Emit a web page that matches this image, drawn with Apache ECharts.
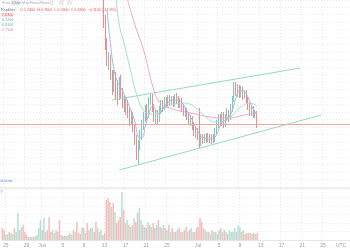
<!DOCTYPE html>
<html><head><meta charset="utf-8">
<script src="https://cdn.jsdelivr.net/npm/echarts@6/dist/echarts.min.js"></script>
<style>html,body{margin:0;padding:0;background:#fff}#c{width:350px;height:250px}</style>
</head><body><div id="c"></div>
<script>
// ---- time axis (8h candles) ----
const startTime = '2023-05-24T08:00:00Z';
const stepHours = 8;
const categoryCount = 201;
const tickDates = ['2023-05-25','2023-05-29','2023-06-01','2023-06-05','2023-06-09','2023-06-13','2023-06-17','2023-06-21','2023-06-25','2023-07-01','2023-07-05','2023-07-09','2023-07-13','2023-07-17','2023-07-21','2023-07-25'];
const tickLabels = ['25','29','Jun','5','9','13','17','21','25','Jul','5','9','13','17','21','25'];

// ---- candles [open, close, low, high]; earlier candles lie above the visible range ----
const hiddenCandleCount = 59;
const candlesVisible = [
[1.92,1.62,1.59,2.07],[1.62,1.42,1.37,1.72],[1.42,1.25,1.21,1.49],[1.25,1.29,1.17,1.35],[1.29,1.12,1.07,1.32],
[1.12,0.99,0.92,1.17],[0.99,1.11,0.95,1.17],[1.11,1.02,0.87,1.15],[1.02,0.92,0.82,1.07],[0.92,1.07,0.87,1.10],
[1.07,0.95,0.89,1.12],[0.95,0.87,0.79,0.99],[0.87,0.79,0.75,0.92],[0.79,0.85,0.72,0.89],[0.85,0.75,0.69,0.87],
[0.75,0.67,0.61,0.79],[0.67,0.72,0.63,0.77],[0.72,0.59,0.55,0.75],[0.59,0.47,0.42,0.62],[0.47,0.35,0.27,0.52],
[0.35,0.41,0.22,0.47],[0.41,0.52,0.37,0.57],[0.52,0.62,0.47,0.67],[0.62,0.69,0.57,0.75],[0.69,0.77,0.65,0.82],
[0.77,0.73,0.67,0.83],[0.73,0.87,0.69,0.90],[0.87,0.91,0.82,0.93],[0.91,0.79,0.75,0.93],[0.79,0.69,0.65,0.83],
[0.69,0.73,0.63,0.77],[0.73,0.67,0.63,0.77],[0.67,0.77,0.65,0.81],[0.77,0.83,0.73,0.87],[0.83,0.79,0.75,0.87],
[0.79,0.87,0.77,0.90],[0.87,0.83,0.79,0.90],[0.83,0.89,0.80,0.92],[0.89,0.85,0.81,0.92],[0.85,0.88,0.82,0.91],
[0.88,0.84,0.80,0.91],[0.84,0.90,0.81,0.93],[0.90,0.87,0.83,0.94],[0.87,0.83,0.79,0.91],[0.83,0.87,0.79,0.89],
[0.87,0.79,0.75,0.89],[0.79,0.74,0.71,0.83],[0.74,0.77,0.70,0.80],[0.77,0.70,0.67,0.79],[0.70,0.65,0.62,0.74],
[0.65,0.69,0.61,0.72],[0.69,0.61,0.57,0.71],[0.61,0.55,0.51,0.65],[0.55,0.57,0.49,0.61],[0.57,0.51,0.47,0.59],
[0.51,0.45,0.39,0.79],[0.45,0.49,0.41,0.53],[0.49,0.46,0.43,0.53],[0.46,0.50,0.44,0.53],[0.50,0.47,0.44,0.54],
[0.47,0.51,0.45,0.54],[0.51,0.46,0.44,0.53],[0.46,0.50,0.43,0.53],[0.50,0.47,0.44,0.53],[0.47,0.56,0.45,0.59],
[0.56,0.62,0.53,0.67],[0.62,0.69,0.59,0.73],[0.69,0.65,0.61,0.73],[0.65,0.71,0.61,0.75],[0.71,0.63,0.59,0.75],
[0.63,0.69,0.60,0.73],[0.69,0.73,0.67,0.79],[0.73,0.69,0.65,0.77],[0.69,0.79,0.67,0.83],[0.79,0.87,0.75,0.91],
[0.87,1.01,0.85,1.05],[1.01,0.95,0.91,1.05],[0.95,0.99,0.90,1.03],[0.99,0.93,0.89,1.02],[0.93,0.97,0.90,1.01],
[0.97,0.91,0.87,1.00],[0.91,0.94,0.88,0.97],[0.94,0.87,0.83,0.97],[0.87,0.81,0.77,0.90],[0.81,0.75,0.71,0.84],
[0.75,0.78,0.71,0.81],[0.78,0.72,0.69,0.81],[0.72,0.74,0.69,0.77],[0.74,0.63,0.59,0.76]
];

// ---- volume ----
const volumes = [
12,10,5,6,8,7,6,12,8,27, 10,13,15,8,5,3,3,3,3,4, 5,12,20,10,22,8,10,23,8,10,
7,10,8,20,5,4,4,4,5,7, 5,10,8,18,7,6,13,12,7,17, 10,12,12,8,18,12,8,10,5,7,
40,42,38,33,37,28,17,20,23,48, 30,17,20,15,13,15,22,18,27,32, 20,15,13,12,18,15,13,17,12,15,
20,13,12,15,12,10,15,8,12,8, 8,10,12,8,8,10,13,8,10,12, 8,8,12,13,22,18,12,10,8,8,
6,10,8,8,6,10,12,8,10,8, 6,10,8,8,12,8,15,13,8,10, 6,7,7,7,6,7,6,7
];
const volumeUp = [
0,0,1,1,0,1,1,0,1,1, 0,1,0,0,0,1,0,1,0,1, 1,1,1,0,1,1,0,0,0,1,
1,0,0,0,1,0,1,0,1,0, 1,0,1,0,0,0,1,0,1,0, 0,1,1,0,0,1,0,1,1,0,
0,0,0,1,0,1,0,0,0,1, 0,0,1,0,1,0,1,0,0,1, 1,0,1,0,1,0,1,0,0,1,
0,1,0,1,0,1,0,1,0,1, 0,1,0,0,1,0,0,1,0,1, 0,1,0,0,0,0,1,0,1,0,
1,0,1,1,0,1,0,1,0,1, 0,1,1,1,1,0,1,1,0,1, 0,0,0,1,0,0,1,0
];

// ---- moving averages [candle index, value] ----
const maFast = [[61,1.77],[63,1.42],[65,1.17],[67,1.05],[69,0.99],[71,0.92],[73,0.84],[75,0.75],[77,0.65],[79,0.50],
[81,0.49],[83,0.61],[85,0.73],[87,0.81],[89,0.77],[91,0.73],[93,0.78],[95,0.83],[97,0.86],[99,0.87],[101,0.87],
[103,0.86],[105,0.82],[107,0.76],[109,0.70],[111,0.63],[113,0.56],[115,0.51],[117,0.49],[119,0.48],[121,0.48],
[123,0.50],[125,0.57],[127,0.65],[129,0.67],[131,0.70],[133,0.77],[135,0.89],[137,0.96],[139,0.96],[141,0.93],
[143,0.85],[145,0.78],[147,0.72]];
const maMid = [[66,1.92],[68,1.62],[71,1.42],[74,1.20],[78,0.92],[81,0.79],[85,0.73],[89,0.73],[94,0.79],[100,0.83],
[106,0.84],[112,0.79],[117,0.71],[123,0.65],[127,0.65],[132,0.70],[137,0.79],[143,0.84],[147,0.81]];
const maSlow = [[72,1.92],[77,1.62],[82,1.37],[87,1.02],[91,0.85],[97,0.79],[103,0.76],[109,0.74],[114,0.72],
[120,0.70],[126,0.69],[132,0.69],[137,0.71],[143,0.73],[147,0.75]];

// ---- trend lines [candle index, value] ----
const trendUpper = [[64,0.87],[172,1.19]];
const trendLower = [[68,0.17],[184,0.72]];

// ---- build ----
const candles = [];
for (let i = 0; i < hiddenCandleCount; i++) candles.push(['-','-','-','-']);
candlesVisible.forEach(c => candles.push(c));
const cats = [];
const t0 = Date.parse(startTime);
for (let i = 0; i < categoryCount; i++) cats.push(new Date(t0 + i*stepHours*3600e3).toISOString().slice(0,13));
const labelMap = {};
tickDates.forEach((d,i)=>{ labelMap[d+'T00'] = tickLabels[i]; });
const showTick = (idx, val) => labelMap[val] !== undefined;

const UP = '#5dbea8', DOWN = '#f06b69';
const VUP = '#b1e2d6', VDOWN = '#f8bdbb';
const last = candlesVisible[candlesVisible.length-1];
const f4 = v => v.toFixed(4);
const chg = last[1] - last[0];

const chart = echarts.init(document.getElementById('c'), null, {renderer:'canvas'});
const gridLine = {show:true, interval: showTick, lineStyle:{color:'#e6e8ec', type:[1,2], width:1}};
chart.setOption({
  animation:false,
  backgroundColor:'#fff',
  grid:[{left:0,right:0,top:0,height:187},{left:0,right:0,top:189,height:51}],
  xAxis:[
    {type:'category',gridIndex:0,data:cats,boundaryGap:true,axisLine:{show:false},axisTick:{show:false},axisLabel:{show:false,interval:showTick},splitLine:gridLine},
    {type:'category',gridIndex:1,data:cats,boundaryGap:true,axisLine:{show:true,lineStyle:{color:'#e3e5ea'}},axisTick:{show:false},
     axisLabel:{show:true,interval:showTick,formatter:v=>labelMap[v]||'',fontSize:5,color:'#9a9ca3',margin:3,fontFamily:'Liberation Sans'},splitLine:gridLine}
  ],
  yAxis:[
    {type:'value',gridIndex:0,min:0,max:1.87,interval:0.075,axisLabel:{show:false},axisLine:{show:false},axisTick:{show:false},
     splitLine:{show:true,lineStyle:{color:'#e9ebef',type:[1,2]}}},
    {type:'value',gridIndex:1,min:0,max:51,interval:8.5,axisLabel:{show:false},axisLine:{show:false},axisTick:{show:false},
     splitLine:{show:true,lineStyle:{color:'#eceef1',type:[1,2]}}}
  ],
  series:[
    {type:'bar',xAxisIndex:1,yAxisIndex:1,barCategoryGap:'12%',
     data:volumes.map((v,i)=>({value:v,itemStyle:{color:volumeUp[i]?VUP:VDOWN}}))},
    {type:'line',name:'trendUpper',data:trendUpper,showSymbol:false,silent:true,lineStyle:{color:'#95d9c4',width:1}},
    {type:'line',name:'trendLower',data:trendLower,showSymbol:false,silent:true,lineStyle:{color:'#95d9c4',width:1}},
    {type:'candlestick',data:candles,barWidth:1.3,clip:true,
     itemStyle:{color:UP,color0:DOWN,borderColor:UP,borderColor0:DOWN,borderWidth:0.8},
     markLine:{symbol:'none',silent:true,label:{show:false},lineStyle:{color:'#f5a5a4',width:1,type:'solid'},data:[{yAxis:last[1]}]}},
    {type:'line',name:'maSlow',data:maSlow,smooth:0.4,showSymbol:false,silent:true,lineStyle:{color:'#e7a8db',width:1}},
    {type:'line',name:'maMid',data:maMid,smooth:0.4,showSymbol:false,silent:true,lineStyle:{color:'#a3e2c6',width:1}},
    {type:'line',name:'maFast',data:maFast,smooth:0.4,showSymbol:false,silent:true,lineStyle:{color:'#a2b9f3',width:1}}
  ],
  graphic:[
    {type:'line',shape:{x1:0,y1:188,x2:350,y2:188},style:{stroke:'#dcdfe4',lineWidth:1.2},silent:true},
    {type:'rect',shape:{x:11,y:0.5,width:9,height:5,r:1},style:{fill:'#e2e9ee'},silent:true},
    {type:'text',x:2,y:1,style:{text:'Price',fontSize:3.8,fill:'#a7a9ae',fontFamily:'Liberation Sans'}},
    {type:'text',x:12,y:1,style:{text:'Chart',fontSize:3.8,fill:'#8a9aa5',fontFamily:'Liberation Sans'}},
    {type:'text',x:22,y:1,style:{text:'Map',fontSize:3.8,fill:'#a7a9ae',fontFamily:'Liberation Sans'}},
    {type:'text',x:30,y:1,style:{text:'Flows',fontSize:3.8,fill:'#a7a9ae',fontFamily:'Liberation Sans'}},
    {type:'text',x:40,y:1,style:{text:'News',fontSize:3.8,fill:'#a7a9ae',fontFamily:'Liberation Sans'}},
    {type:'rect',shape:{x:50,y:1,width:3,height:3},style:{fill:'none',stroke:'#c2c4c8',lineWidth:0.6},silent:true},
    {type:'rect',shape:{x:60,y:1,width:3,height:3},style:{fill:'none',stroke:'#c2c4c8',lineWidth:0.6},silent:true},
    {type:'rect',shape:{x:68,y:1,width:3,height:3},style:{fill:'none',stroke:'#c2c4c8',lineWidth:0.6},silent:true},
    {type:'text',x:1,y:8,style:{text:'Rsplitter ·',fontSize:3.8,fill:'#6a6d74',fontFamily:'Liberation Sans'}},
    {type:'text',x:20,y:8,style:{text:'O '+f4(last[0])+'  H '+f4(last[3])+'  L '+f4(last[2])+'  C '+f4(last[1])+'  '+(chg<0?'−':'+')+f4(Math.abs(chg))+' ('+(chg/last[0]*100).toFixed(1)+'%)',fontSize:3.7,fill:'#ef5350',fontFamily:'Liberation Sans'}},
    {type:'rect',shape:{x:1,y:13,width:12,height:4.5},style:{fill:'#fde2e2'},silent:true},
    {type:'text',x:2,y:13.4,style:{text:f4(last[1]),fontSize:3.7,fill:'#ef5350',fontFamily:'Liberation Sans'}},
    {type:'text',x:2,y:18.4,style:{text:f4(maFast[maFast.length-1][1]),fontSize:3.7,fill:'#6f93ef',fontFamily:'Liberation Sans'}},
    {type:'text',x:2,y:23,style:{text:f4(maMid[maMid.length-1][1]),fontSize:3.7,fill:'#4fc48e',fontFamily:'Liberation Sans'}},
    {type:'text',x:2,y:27.5,style:{text:f4(maSlow[maSlow.length-1][1]),fontSize:3.7,fill:'#d472c4',fontFamily:'Liberation Sans'}},
    {type:'text',x:0,y:179,style:{text:'Volume',fontSize:3.8,fill:'#5b8fe8',fontFamily:'Liberation Sans'}},
    {type:'text',x:0.5,y:190,style:{text:String(volumes[volumes.length-1]),fontSize:3.8,fill:'#ef5350',fontFamily:'Liberation Sans'}},
    {type:'text',x:336,y:243.5,style:{text:'UTC',fontSize:5,fill:'#9a9ca3',fontFamily:'Liberation Sans'}}
  ]
});
</script>
</body></html>
